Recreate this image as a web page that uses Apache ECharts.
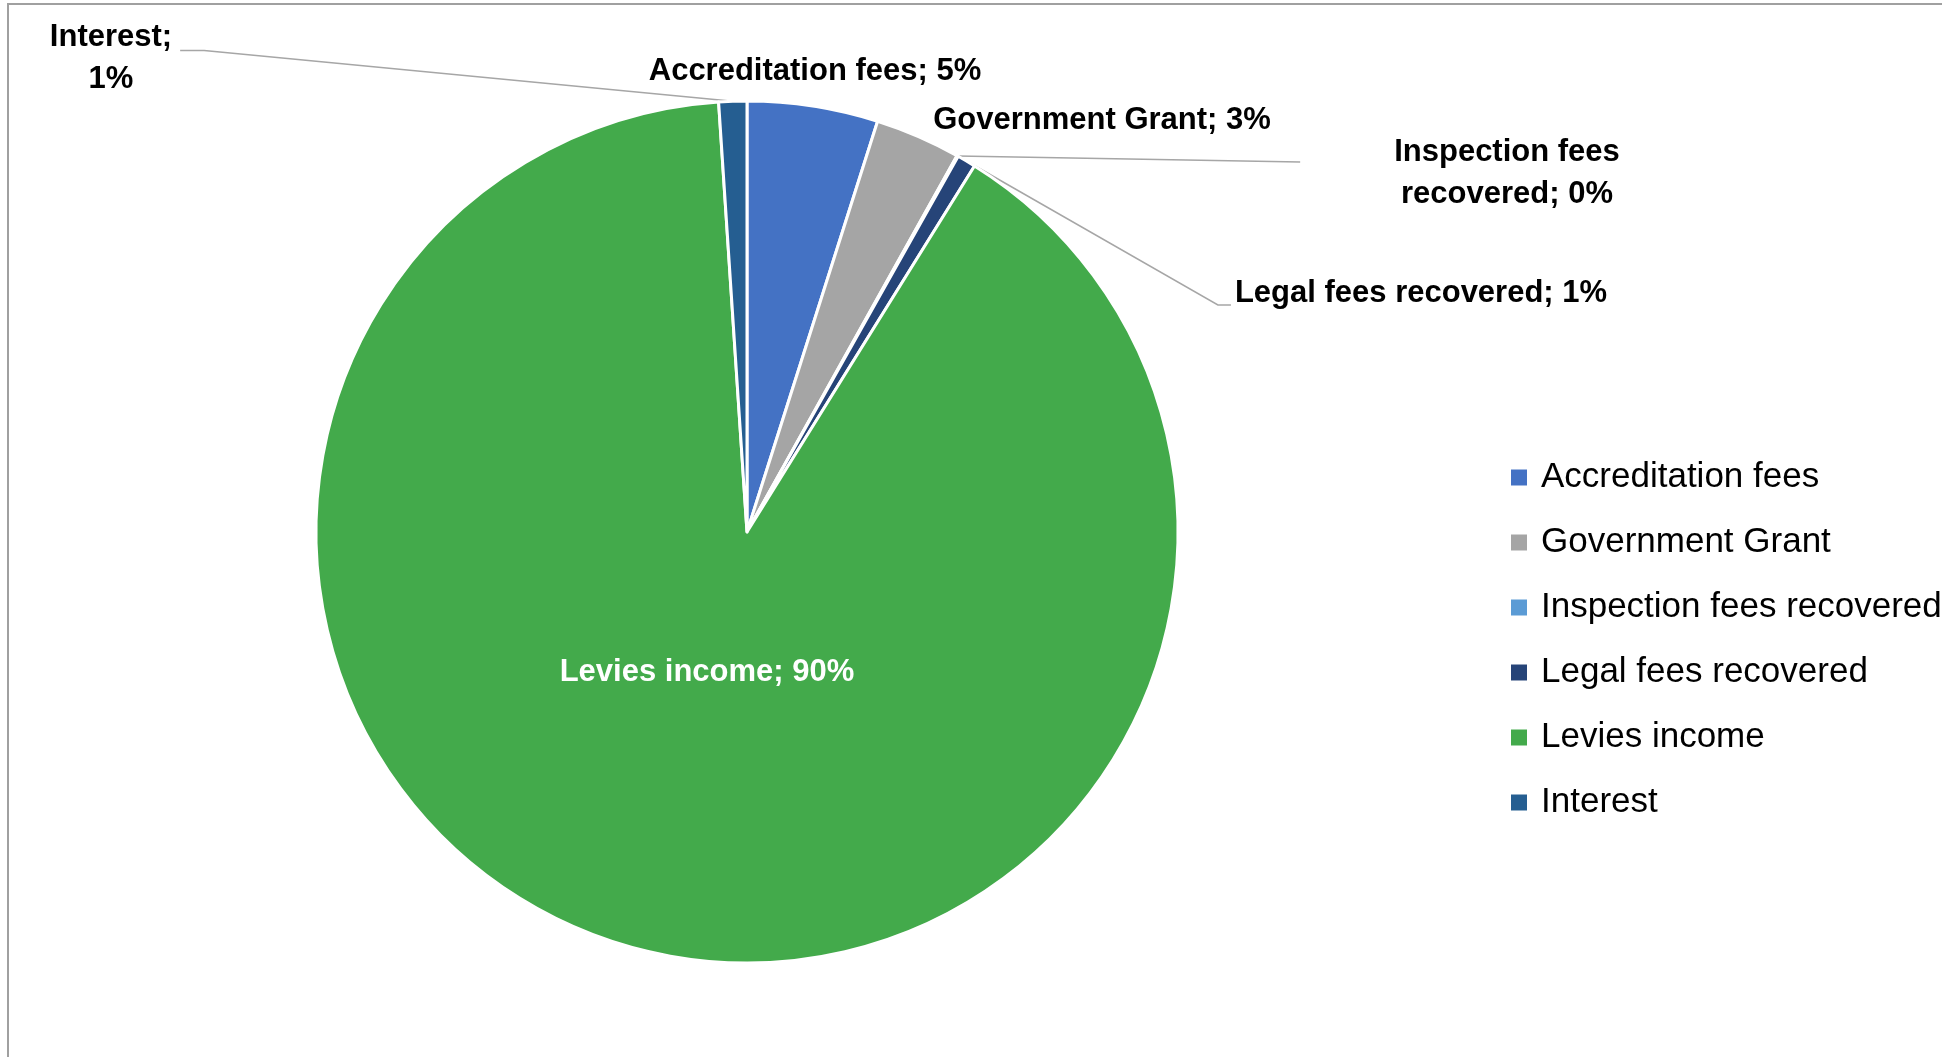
<!DOCTYPE html>
<html>
<head>
<meta charset="utf-8">
<title>Income by source</title>
<script src="https://cdn.jsdelivr.net/npm/echarts@6/dist/echarts.min.js"></script>
<style>
  html, body { margin: 0; padding: 0; background: #ffffff; }
  #chart { width: 1942px; height: 1057px; }
</style>
</head>
<body>
<div id="chart"></div>
<script>
// Income sources, clockwise from 12 o'clock
const categories = [
  'Accreditation fees',
  'Government Grant',
  'Inspection fees recovered',
  'Legal fees recovered',
  'Levies income',
  'Interest'
];
// Share of total income (%)
const shares = [4.9, 3.2, 0.05, 0.7, 90.1, 1.05];
// Names as printed beside each slice, and what joins name and percentage
const labelNames = [
  'Accreditation fees',
  'Government Grant',
  'Inspection fees\nrecovered',
  'Legal fees recovered',
  'Levies income',
  'Interest'
];
const labelJoins = ['; ', '; ', '; ', '; ', '; ', ';\n'];
const colors = ['#4472C4', '#A5A5A5', '#5B9BD5', '#264478', '#43AA4B', '#255E91'];

const FONT = "'Liberation Sans Narrow', 'Arial Narrow', 'Liberation Sans', Arial, sans-serif";

// Where each label sits, and how its leader line runs
const labelPlace = [
  { x: 815, y: 71, line: null },
  { x: 1102, y: 120, line: null },
  { x: 1507, y: 173, line: 'farLeft' },
  { x: 1421, y: 293, line: 'left' },
  { x: 707, y: 672, line: null },
  { x: 111, y: 58, line: 'right' }
];

const chart = echarts.init(document.getElementById('chart'), null, { renderer: 'canvas' });

const option = {
  backgroundColor: '#ffffff',
  animation: false,
  color: colors,
  graphic: [{
    type: 'rect',
    silent: true,
    shape: { x: 8, y: 4, width: 2100, height: 1200 },
    style: { fill: 'none', stroke: '#A0A0A0', lineWidth: 2 }
  }],
  legend: {
    orient: 'vertical',
    left: 1509,
    top: 460,
    padding: 0,
    icon: 'rect',
    itemWidth: 18,
    itemHeight: 18,
    itemGap: 30,
    data: categories,
    textStyle: {
      fontFamily: FONT,
      fontSize: 35,
      color: '#000000',
      padding: [0, 0, 0, 8]
    }
  },
  series: [{
    type: 'pie',
    center: [747, 532],
    radius: [0, 431],
    startAngle: 90,
    clockwise: true,
    percentPrecision: 0,
    avoidLabelOverlap: false,
    itemStyle: { borderColor: '#ffffff', borderWidth: 3 },
    label: {
      show: true,
      position: 'outside',
      fontFamily: FONT,
      fontSize: 31,
      fontWeight: 'bold',
      color: '#000000',
      lineHeight: 42,
      align: 'center',
      formatter: function (p) {
        return labelNames[p.dataIndex] + labelJoins[p.dataIndex] + p.percent + '%';
      }
    },
    labelLine: {
      show: true,
      length: 20,
      length2: 20,
      lineStyle: { color: '#A6A6A6', width: 1.5 }
    },
    labelLayout: function (params) {
      const place = labelPlace[params.dataIndex];
      const w = params.labelRect.width;
      const h = params.labelRect.height;
      const left = place.x - w / 2;
      const top = place.y - h / 2;
      const out = { x: place.x, y: place.y, align: 'center', verticalAlign: 'middle' };
      const pts = params.labelLinePoints;
      if (pts && place.line) {
        const start = pts[0];
        if (place.line === 'right') {
          const y = top + h * 0.41;
          out.labelLinePoints = [start, [left + w + 32, y], [left + w + 8, y]];
        } else if (place.line === 'farLeft') {
          const y = top + h * 0.37;
          const end = [left - 94, y];
          out.labelLinePoints = [start, [(start[0] + end[0]) / 2, (start[1] + end[1]) / 2], end];
        } else {
          const y = place.y + 12;
          out.labelLinePoints = [start, [left - 17, y], [left - 4, y]];
        }
      }
      return out;
    },
    data: categories.map(function (name, i) {
      const item = { name: name, value: shares[i] };
      if (!labelPlace[i].line) {
        item.labelLine = { show: false };
      }
      if (name === 'Levies income') {
        item.label = { color: '#ffffff' };
      }
      return item;
    })
  }]
};

chart.setOption(option);
</script>
</body>
</html>
